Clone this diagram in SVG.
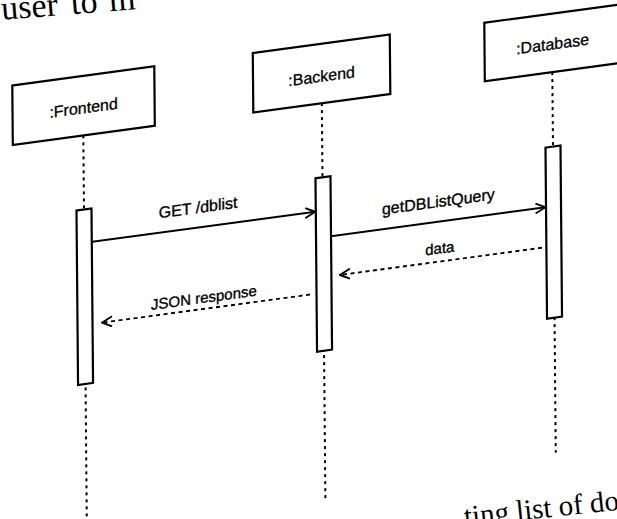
<svg xmlns="http://www.w3.org/2000/svg" width="617" height="519" viewBox="0 0 617 519">
  <defs>
    <style>
      .box { fill: #fff; stroke: #000; stroke-width: 2.2; }
      .bar { fill: #fff; stroke: #000; stroke-width: 2.2; }
      .life { fill: none; stroke: #000; stroke-width: 2; stroke-dasharray: 3 4; }
      .msg { fill: none; stroke: #000; stroke-width: 2; }
      .ret { fill: none; stroke: #000; stroke-width: 1.9; stroke-dasharray: 4 3.5; }
      .name { font-family: "Liberation Sans", Arial, sans-serif; font-size: 16px; text-anchor: middle; fill: #000; stroke: #000; stroke-width: 0.3; }
      .lbl { font-family: "Liberation Sans", Arial, sans-serif; font-size: 16px; text-anchor: middle; fill: #000; stroke: #000; stroke-width: 0.35; }
      .lbl-s { font-family: "Liberation Sans", Arial, sans-serif; font-size: 15px; text-anchor: middle; fill: #000; stroke: #000; stroke-width: 0.35; }
      .page { font-family: "Liberation Serif", "Times New Roman", serif; fill: #000; }
    </style>
    <marker id="open" viewBox="0 0 12 12" refX="11" refY="6" markerWidth="12" markerHeight="12" markerUnits="userSpaceOnUse" orient="auto">
      <path d="M1,1 L11,6 L1,11" fill="none" stroke="#000" stroke-width="1.9"/>
    </marker>
  </defs>

  <rect width="617" height="519" fill="#fff"/>

  <!-- surrounding page text -->
  <text class="page" font-size="34" transform="rotate(-4.6 0 20)"><tspan x="2" y="20">user</tspan><tspan x="72" y="20">to</tspan><tspan x="110" y="20">m</tspan></text>
  <text class="page" font-size="29" x="465" y="526" transform="rotate(-6 465 526)">ting list of docu</text>

  <!-- the page is slightly tilted: lay everything out flat, then skew -->
  <g transform="matrix(1,-0.135,0.009,1,0,0)">
    <g id="frontend">
      <line class="life" x1="82" y1="146.5" x2="82" y2="570"/>
      <rect class="box" x="11.5" y="87" width="142" height="59.5"/>
      <text class="name" x="82.5" y="124.5">:Frontend</text>
      <rect class="bar" x="74.5" y="220.5" width="15" height="174.5"/>
    </g>

    <g id="backend">
      <line class="life" x1="320.5" y1="146.5" x2="320.5" y2="543"/>
      <rect class="box" x="252" y="87" width="137" height="59.5"/>
      <text class="name" x="320.5" y="125">:Backend</text>
      <rect class="bar" x="313.5" y="220.5" width="15" height="173.5"/>
    </g>

    <g id="database">
      <line class="life" x1="551" y1="146.5" x2="551" y2="527"/>
      <rect class="box" x="483.5" y="88" width="142" height="58.5"/>
      <text class="name" x="551.5" y="124">:Database</text>
      <rect class="bar" x="543.5" y="221" width="15" height="171"/>
    </g>

    <g id="messages">
      <path class="msg" d="M90,254 L313,254" marker-end="url(#open)"/>
      <text class="lbl" x="196" y="239.5">GET /dblist</text>

      <path class="msg" d="M328.5,280.5 L543,280.5" marker-end="url(#open)"/>
      <text class="lbl" x="436" y="266">getDBListQuery</text>

      <path class="ret" d="M539,320.5 L337,320.5" marker-end="url(#open)"/>
      <text class="lbl-s" x="437" y="312.5">data</text>

      <path class="ret" d="M307,336 L99,336" marker-end="url(#open)"/>
      <text class="lbl-s" x="201" y="330">JSON response</text>
    </g>
  </g>
</svg>
